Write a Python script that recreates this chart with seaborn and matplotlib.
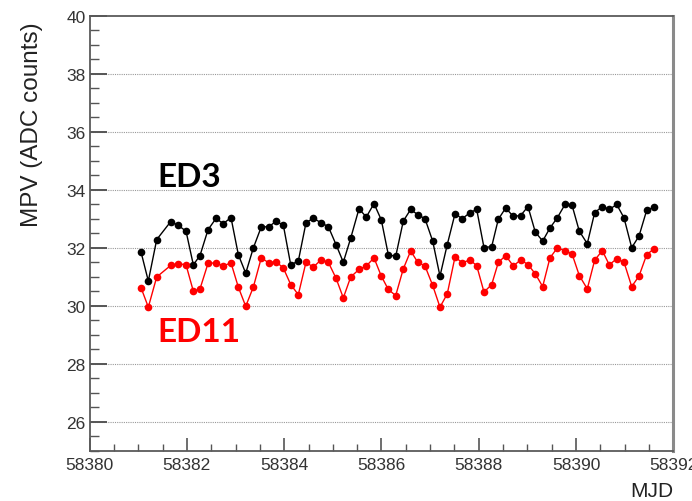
import matplotlib
matplotlib.use("Agg")
import matplotlib.pyplot as plt
from matplotlib.ticker import MultipleLocator
import seaborn as sns
import pandas as pd

mjd = [58381.057, 58381.207, 58381.379, 58381.667, 58381.823, 58381.982, 58382.132, 58382.269,
       58382.434, 58382.598, 58382.748, 58382.906, 58383.057, 58383.209, 58383.365, 58383.529,
       58383.681, 58383.831, 58383.982, 58384.134, 58384.290, 58384.448, 58384.598, 58384.756,
       58384.906, 58385.065, 58385.215, 58385.367, 58385.537, 58385.688, 58385.846, 58385.996,
       58386.140, 58386.292, 58386.448, 58386.600, 58386.744, 58386.894, 58387.052, 58387.202,
       58387.352, 58387.511, 58387.661, 58387.819, 58387.957, 58388.107, 58388.265, 58388.401,
       58388.553, 58388.709, 58388.861, 58389.011, 58389.161, 58389.313, 58389.463, 58389.613,
       58389.772, 58389.916, 58390.066, 58390.230, 58390.382, 58390.539, 58390.682, 58390.835,
       58390.985, 58391.143, 58391.293, 58391.451, 58391.601]

ed3 = [31.85, 30.85, 32.28, 32.90, 32.77, 32.57, 31.41, 31.73, 32.62, 33.01,
       32.83, 33.04, 31.76, 31.12, 31.99, 32.72, 32.72, 32.91, 32.78, 31.41,
       31.54, 32.86, 33.02, 32.86, 32.73, 32.11, 31.50, 32.33, 33.34, 33.06,
       33.52, 32.96, 31.76, 31.70, 32.92, 33.32, 33.14, 33.00, 32.23, 31.02,
       32.11, 33.17, 33.00, 33.21, 33.32, 32.00, 32.04, 32.98, 33.37, 33.08,
       33.11, 33.42, 32.54, 32.23, 32.68, 33.03, 33.49, 33.47, 32.57, 32.14,
       33.21, 33.42, 33.32, 33.49, 33.03, 32.00, 32.40, 33.29, 33.40]

ed11 = [30.62, 29.95, 30.99, 31.39, 31.45, 31.41, 30.50, 30.58, 31.46, 31.48,
        31.37, 31.48, 30.64, 29.98, 30.64, 31.65, 31.48, 31.52, 31.30, 30.73,
        30.38, 31.50, 31.33, 31.58, 31.50, 30.95, 30.27, 30.99, 31.25, 31.37,
        31.65, 31.02, 30.56, 30.35, 31.27, 31.89, 31.50, 31.37, 30.70, 29.95,
        30.41, 31.68, 31.48, 31.58, 31.38, 30.47, 30.73, 31.49, 31.73, 31.37,
        31.58, 31.42, 31.10, 30.66, 31.65, 31.99, 31.90, 31.79, 31.04, 30.58,
        31.57, 31.90, 31.41, 31.62, 31.50, 30.66, 31.02, 31.76, 31.96]

series_names = ["ED3", "ED11"]
series_colors = ["black", "#ff0000"]

df = pd.DataFrame({
    "MJD": mjd * 2,
    "MPV": ed3 + ed11,
    "station": [series_names[0]] * len(mjd) + [series_names[1]] * len(mjd),
})

sns.set_theme(style="white")
plt.rcParams["font.family"] = ["Liberation Sans", "DejaVu Sans"]

fig = plt.figure(figsize=(6.92, 5.02), dpi=100)
ax = fig.add_axes([0.1295, 0.1002, 0.8436, 0.8665])

sns.lineplot(data=df, x="MJD", y="MPV", hue="station", palette=dict(zip(series_names, series_colors)),
             estimator=None, sort=True, marker="o", markersize=5.5, markeredgewidth=0,
             linewidth=1.0, legend=False, ax=ax)

ax.set_xlim(58380, 58392)
ax.set_ylim(25, 40)
ax.xaxis.set_major_locator(MultipleLocator(2))
ax.xaxis.set_minor_locator(MultipleLocator(0.5))
ax.yaxis.set_minor_locator(MultipleLocator(0.5))
ax.set_yticks([26, 28, 30, 32, 34, 36, 38, 40])
ax.ticklabel_format(useOffset=False, style="plain", axis="x")

for y in [26, 28, 30, 32, 34, 36, 38]:
    ax.axhline(y, color="#999999", linestyle=(0, (1, 1)), linewidth=0.8, zorder=0)

narrow = ["Liberation Sans Narrow", "Liberation Sans", "DejaVu Sans"]
ax.tick_params(axis="both", which="both", direction="in", colors="#555555",
               labelcolor="#333333", labelsize=12.5, left=True, bottom=True, top=False, right=False)
ax.tick_params(axis="y", which="major", length=12, width=1.4, pad=3)
ax.tick_params(axis="y", which="minor", length=6.5, width=1.0)
ax.tick_params(axis="x", which="major", length=9.5, width=1.2, pad=4.5)
ax.tick_params(axis="x", which="minor", length=4.8, width=1.0)
for lab in ax.get_xticklabels() + ax.get_yticklabels():
    lab.set_family(narrow)

for side in ["left", "bottom", "top"]:
    ax.spines[side].set_color("#5a5a5a")
    ax.spines[side].set_linewidth(1.3)
ax.spines["right"].set_color("#8a8a8a")
ax.spines["right"].set_linewidth(2.2)

ax.set_xlabel("")
ax.set_ylabel("MPV (ADC counts)", fontsize=17.5, color="#222222")
ax.yaxis.set_label_coords(-0.08, 0.752)
fig.text(0.973, 0.009, "MJD", ha="right", va="baseline", fontsize=15, color="#222222")

ax.text(58381.39, 34.14, series_names[0], color=series_colors[0], fontsize=24,
        fontweight="bold", family=["Lato", "DejaVu Sans"], ha="left", va="baseline")
ax.text(58381.39, 28.79, series_names[1], color=series_colors[1], fontsize=24,
        fontweight="bold", family=["Lato", "DejaVu Sans"], ha="left", va="baseline")

fig.savefig("out.png", dpi=100)
